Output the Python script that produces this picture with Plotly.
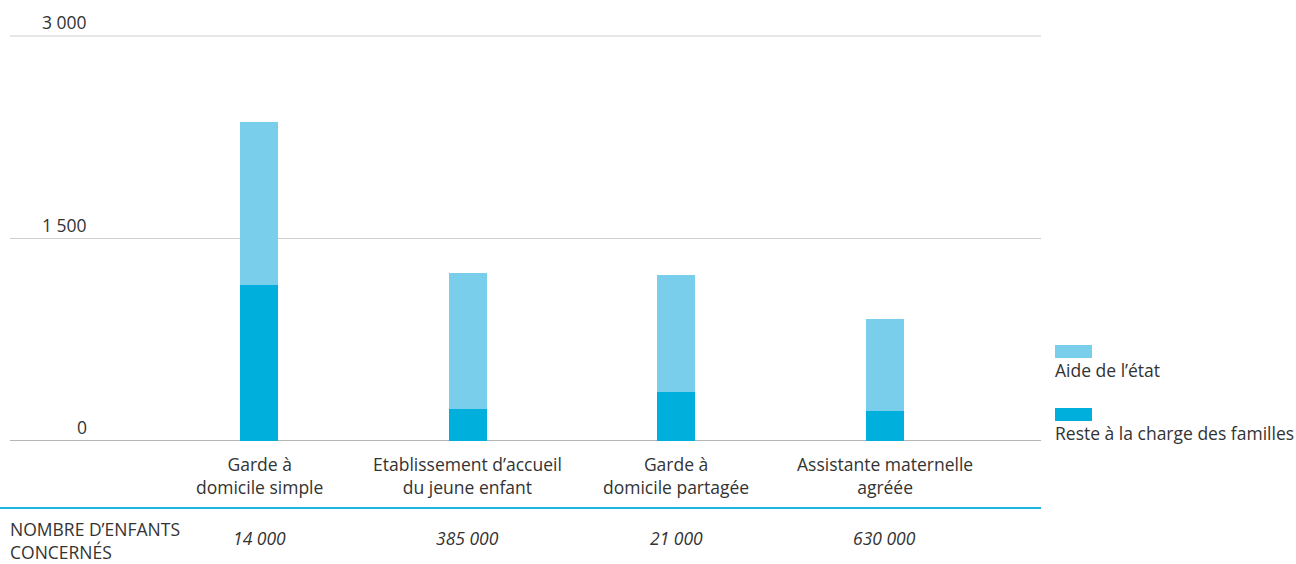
import plotly.graph_objects as go

# Monthly cost of childcare by mode, split between state aid and family share
categories = [
    "Garde à<br>domicile simple",
    "Etablissement d’accueil<br>du jeune enfant",
    "Garde à<br>domicile partagée",
    "Assistante maternelle<br>agréée",
]
reste_familles = [1155, 235, 365, 220]
aide_etat = [1210, 1010, 865, 685]
nb_enfants = ["14 000", "385 000", "21 000", "630 000"]
y_ticks = [0, 1500, 3000]
y_tick_labels = ["0", "1 500", "3 000"]

series_names = ["Aide de l’état", "Reste à la charge des familles"]
LIGHT = "#79cfeb"
DARK = "#00afdb"
TEXT = "#333333"
FONT = "Open Sans"
FS = 17.5

W, H = 1296, 564
M_L, M_R, M_T, M_B = 10, 255, 34, 123
PLOT_W = W - M_L - M_R
PLOT_H = H - M_T - M_B


def px_x(px):
    return (px - M_L) / PLOT_W


def px_y(py):
    return (M_T + PLOT_H - py) / PLOT_H


xpos = list(range(1, len(categories) + 1))

fig = go.Figure()
fig.add_trace(go.Bar(x=xpos, y=reste_familles, name=series_names[1],
                     marker=dict(color=DARK, line=dict(width=0)), width=0.182))
fig.add_trace(go.Bar(x=xpos, y=aide_etat, name=series_names[0],
                     marker=dict(color=LIGHT, line=dict(width=0)), width=0.182))

annotations = []
shapes = []
# gridlines with value labels sitting above them
for v, lab in zip(y_ticks, y_tick_labels):
    annotations.append(dict(x=px_x(89), xref="paper", y=v, yref="y", text=lab,
                            xanchor="right", yanchor="bottom", yshift=0,
                            showarrow=False, font=dict(size=FS, color=TEXT)))
    shapes.append(dict(type="line", xref="paper", yref="y", x0=0, x1=1,
                       y0=v, y1=v, layer="below",
                       line=dict(color="#9c9c9c" if v == 0 else "#cfcfcf",
                                 width=1.5 if v == 0 else 1)))
# category labels and number of children
for x, cat, n in zip(xpos, categories, nb_enfants):
    annotations.append(dict(x=x, xref="x", y=0, yref="y", text=cat,
                            xanchor="center", yanchor="top", yshift=-9,
                            showarrow=False, align="center",
                            font=dict(size=FS, color=TEXT)))
    annotations.append(dict(x=x, xref="x", y=0, yref="y", text=f"<i>{n}</i>",
                            xanchor="center", yanchor="middle", yshift=-97,
                            showarrow=False, font=dict(size=FS, color=TEXT)))
annotations.append(dict(x=px_x(8), xref="paper", y=0, yref="y",
                        text="NOMBRE D’ENFANTS<br>CONCERNÉS",
                        xanchor="left", yanchor="middle", yshift=-99,
                        showarrow=False, align="left",
                        font=dict(size=FS, color=TEXT)))

# legend: swatch with its label underneath
legend_items = [(series_names[0], LIGHT, 345), (series_names[1], DARK, 408)]
for name, col, ytop in legend_items:
    shapes.append(dict(type="rect", xref="paper", yref="paper",
                       x0=px_x(1055), x1=px_x(1092),
                       y0=px_y(ytop), y1=px_y(ytop + 13),
                       fillcolor=col, line=dict(width=0)))
    annotations.append(dict(x=px_x(1053), xref="paper",
                            y=px_y(ytop + 25), yref="paper",
                            text=name, xanchor="left", yanchor="middle",
                            showarrow=False, font=dict(size=FS, color=TEXT)))

# blue separator above the "number of children" row
shapes.append(dict(type="line", xref="paper", yref="paper",
                   x0=px_x(0), x1=px_x(1041), y0=px_y(508), y1=px_y(508),
                   line=dict(color="#1fb4e0", width=2)))

fig.update_layout(
    barmode="stack",
    width=W, height=H,
    margin=dict(l=M_L, r=M_R, t=M_T, b=M_B, pad=0),
    paper_bgcolor="white", plot_bgcolor="white",
    showlegend=False,
    font=dict(family=FONT, size=FS, color=TEXT),
    xaxis=dict(range=[-0.194, 4.749], showticklabels=False, showgrid=False,
               zeroline=False, showline=False, fixedrange=True),
    yaxis=dict(range=[0, 3000 * PLOT_H / 405], showticklabels=False,
               showgrid=False, zeroline=False, showline=False),
    annotations=annotations,
    shapes=shapes,
)

fig.write_html("out.html")
